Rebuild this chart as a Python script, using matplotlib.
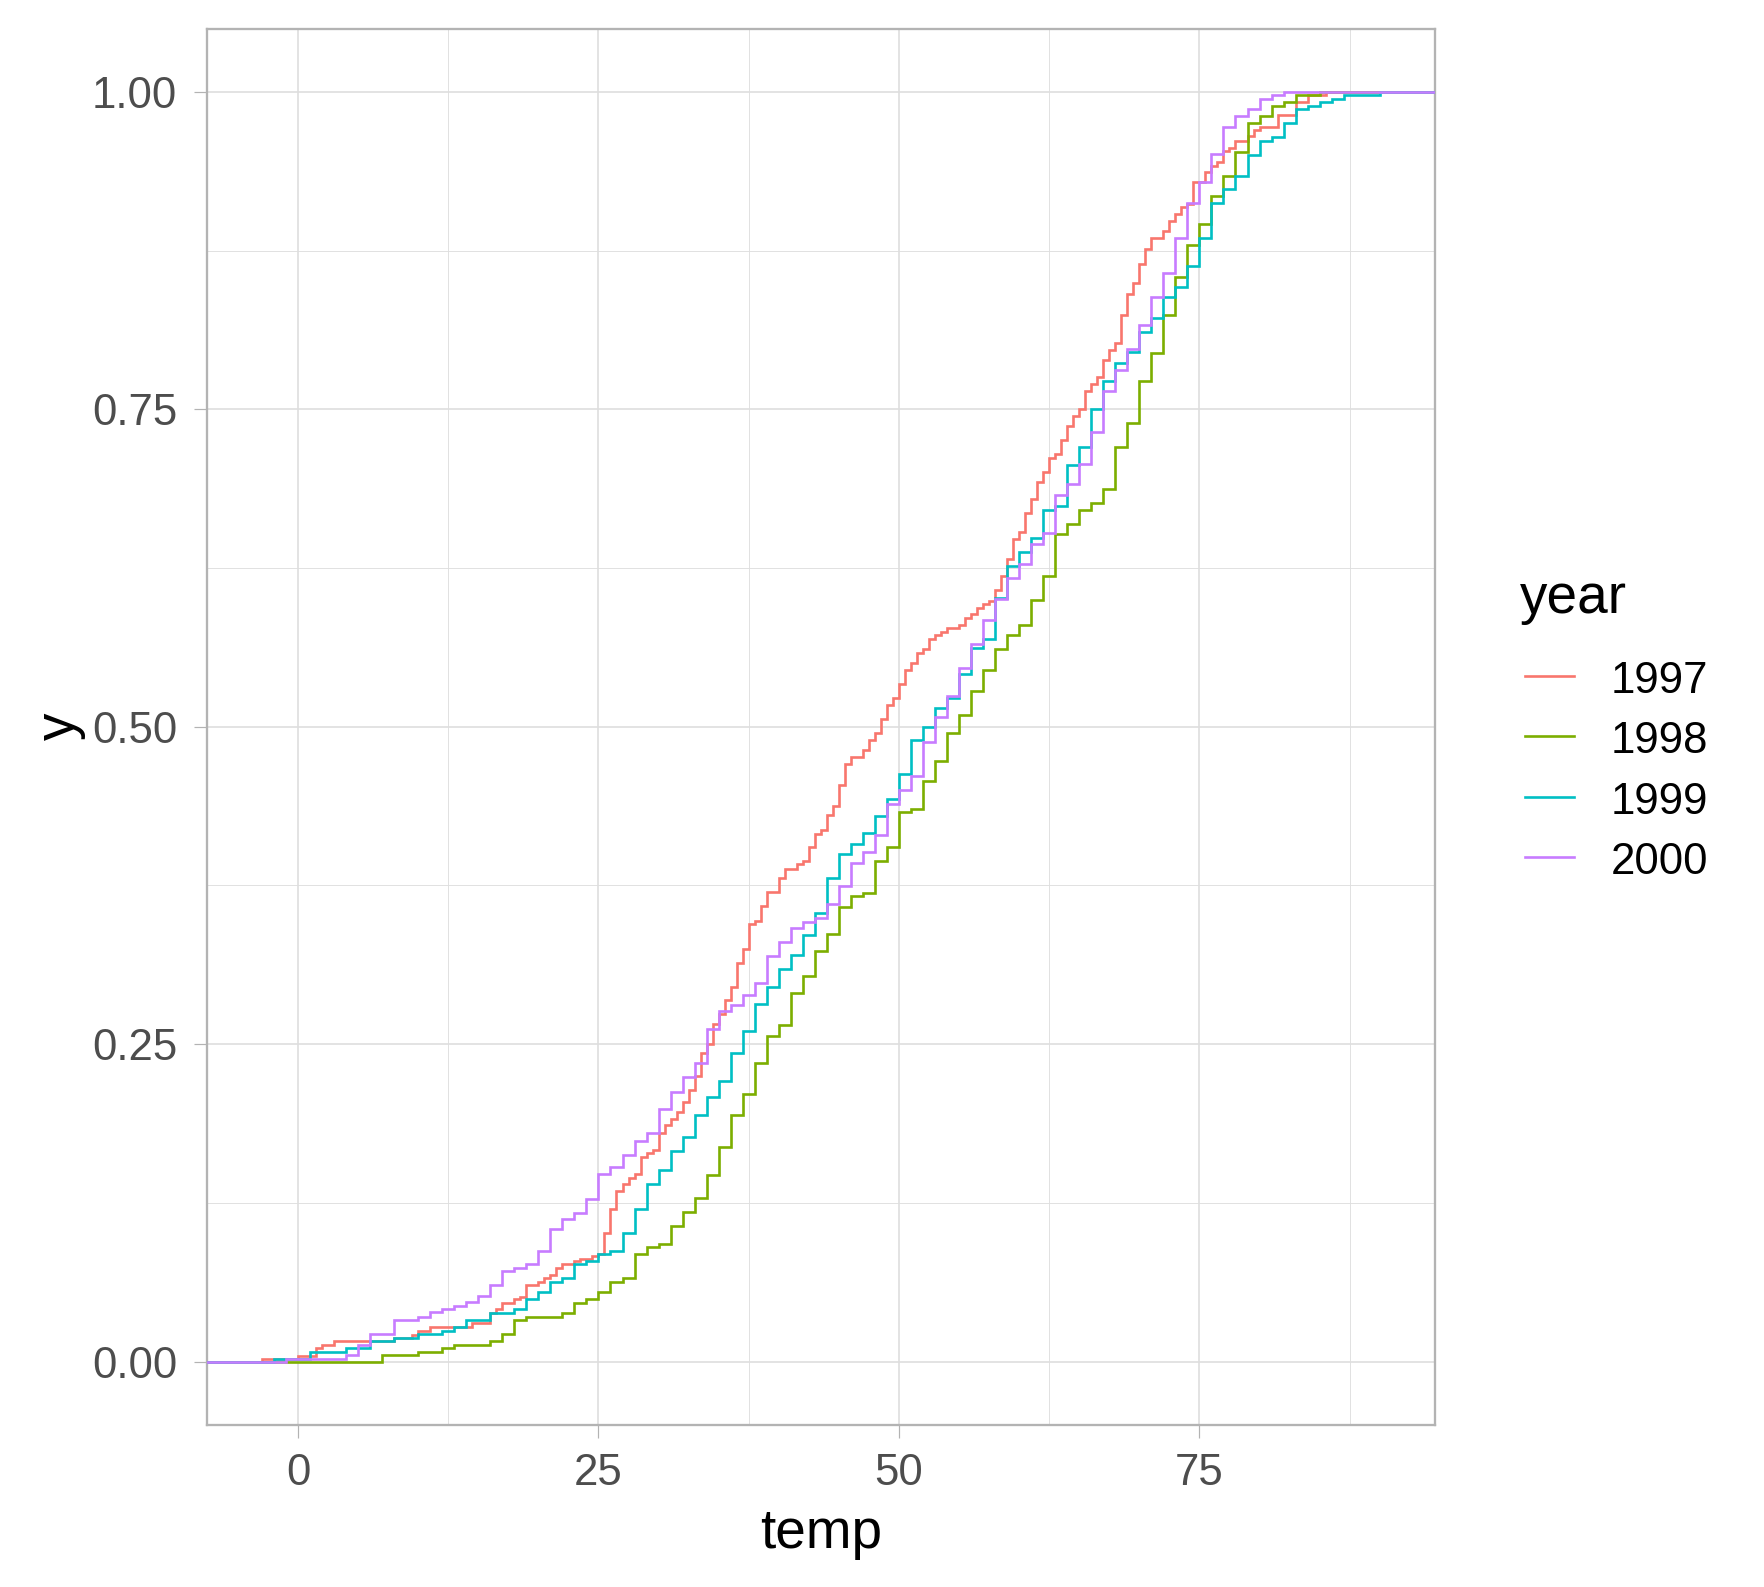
import matplotlib
matplotlib.use("Agg")
import matplotlib.pyplot as plt
from matplotlib.lines import Line2D
from matplotlib.ticker import FixedLocator

# ---------------- data ----------------
years = ["1997", "1998", "1999", "2000"]
colors = ["#F8766D", "#7CAE00", "#00BFC4", "#C77CFF"]

temp_1997 = [-3.0, 0.0, 1.5, 2.0, 3.0, 8.0, 9.5, 10.0, 11.0, 14.5, 16.0, 16.5, 17.0, 18.0, 18.5,
             19.0, 20.0, 20.5, 21.0, 21.5, 22.0, 23.0, 23.5, 24.5, 25.0, 25.5, 26.0, 26.5,
             27.0, 27.5, 28.0, 28.5, 29.0, 29.5, 30.0, 30.5, 31.0, 31.5, 32.0, 32.5, 33.0,
             33.5, 34.0, 34.5, 35.0, 35.5, 36.0, 36.5, 37.0, 37.5, 38.0, 38.5, 39.0, 40.0,
             40.5, 41.5, 42.0, 42.5, 43.0, 43.5, 44.0, 44.5, 45.0, 45.5, 46.0, 47.0, 47.5,
             48.0, 48.5, 49.0, 49.5, 50.0, 50.5, 51.0, 51.5, 52.0, 52.5, 53.0, 53.5, 54.0,
             55.0, 55.5, 56.0, 56.5, 57.0, 57.5, 58.0, 58.5, 59.0, 59.5, 60.0, 60.5, 61.0,
             61.5, 62.0, 62.5, 63.0, 63.5, 64.0, 64.5, 65.0, 65.5, 66.0, 66.5, 67.0, 67.5,
             68.0, 68.5, 69.0, 69.5, 70.0, 70.5, 71.0, 72.0, 72.5, 73.0, 73.5, 74.0, 74.5,
             75.5, 76.0, 76.5, 77.0, 77.5, 78.0, 79.0, 79.5, 80.0, 81.5, 83.0, 84.0, 85.5]
ecdf_1997 = [0.0021, 0.0047, 0.0108, 0.0129, 0.0163, 0.0186, 0.021, 0.0239, 0.027, 0.030, 0.038,
             0.041, 0.046, 0.049, 0.051, 0.060, 0.063, 0.066, 0.0685, 0.074, 0.077, 0.079,
             0.081, 0.083, 0.085, 0.101, 0.120, 0.134, 0.1395, 0.1447, 0.1476, 0.161, 0.164,
             0.1665, 0.180, 0.186, 0.191, 0.1967, 0.2046, 0.2138, 0.2248, 0.2434, 0.2505,
             0.2658, 0.2736, 0.2847, 0.2952, 0.3143, 0.3253, 0.345, 0.347, 0.3587, 0.3695,
             0.3805, 0.388, 0.3918, 0.394, 0.4049, 0.4159, 0.419, 0.4304, 0.4375, 0.4538,
             0.4703, 0.4761, 0.4816, 0.4892, 0.4953, 0.5063, 0.5168, 0.5223, 0.5333, 0.5444,
             0.5499, 0.5578, 0.5609, 0.5688, 0.5719, 0.5746, 0.5774, 0.5798, 0.5853, 0.5885,
             0.5937, 0.5964, 0.599, 0.6074, 0.6187, 0.6318, 0.648, 0.6536, 0.6685, 0.6796,
             0.6927, 0.7006, 0.7117, 0.7148, 0.7258, 0.7366, 0.7445, 0.7503, 0.7647, 0.770,
             0.7752, 0.7889, 0.7967, 0.802, 0.8243, 0.8408, 0.8492, 0.8645, 0.8763, 0.8847,
             0.8902, 0.8981, 0.9038, 0.9094, 0.912, 0.929, 0.9373, 0.9419, 0.9449, 0.9535,
             0.9556, 0.9614, 0.965, 0.970, 0.9727, 0.9816, 0.9921, 0.9974, 1.0]

temp_1998 = [7.0, 10.0, 12.0, 13.0, 16.0, 17.0, 18.0, 19.0, 22.0, 23.0, 24.0, 25.0, 26.0, 27.0,
             28.0, 29.0, 30.0, 31.0, 32.0, 33.0, 34.0, 35.0, 36.0, 37.0, 38.0, 39.0, 40.0,
             41.0, 42.0, 43.0, 44.0, 45.0, 46.0, 47.0, 48.0, 49.0, 50.0, 51.0, 52.0, 53.0,
             54.0, 55.0, 56.0, 57.0, 58.0, 59.0, 60.0, 61.0, 62.0, 63.0, 64.0, 65.0, 66.0,
             67.0, 68.0, 69.0, 70.0, 71.0, 72.0, 73.0, 74.0, 75.0, 76.0, 77.0, 78.0, 79.0,
             80.0, 81.0, 82.0, 83.0, 85.0]
ecdf_1998 = [0.0053, 0.0076, 0.0108, 0.0131, 0.016, 0.0218, 0.033, 0.035, 0.038, 0.046, 0.0496,
             0.055, 0.063, 0.066, 0.085, 0.090, 0.0925, 0.1067, 0.1174, 0.1287, 0.1473,
             0.1691, 0.1938, 0.2104, 0.2348, 0.2568, 0.2652, 0.290, 0.3038, 0.3232, 0.3364,
             0.3582, 0.3668, 0.3692, 0.3941, 0.4049, 0.4325, 0.4356, 0.4572, 0.473, 0.4953,
             0.5092, 0.5281, 0.5444, 0.5609, 0.5719, 0.5798, 0.5995, 0.6187, 0.6515, 0.6594,
             0.6704, 0.6765, 0.6873, 0.7206, 0.7392, 0.7726, 0.7944, 0.8243, 0.854, 0.8794,
             0.8962, 0.9182, 0.9338, 0.953, 0.9753, 0.9811, 0.989, 0.9921, 0.9974, 1.0]

temp_1999 = [-2.0, 1.0, 4.0, 6.0, 8.0, 10.0, 12.0, 13.0, 14.0, 16.0, 18.0, 19.0, 20.0, 21.0,
             22.0, 23.0, 24.0, 25.0, 26.0, 27.0, 28.0, 29.0, 30.0, 31.0, 32.0, 33.0, 34.0,
             35.0, 36.0, 37.0, 38.0, 39.0, 40.0, 41.0, 42.0, 43.0, 44.0, 45.0, 46.0, 47.0,
             48.0, 49.0, 50.0, 51.0, 52.0, 53.0, 54.0, 55.0, 56.0, 57.0, 58.0, 59.0, 60.0,
             61.0, 62.0, 63.0, 64.0, 65.0, 66.0, 67.0, 68.0, 69.0, 70.0, 71.0, 72.0, 73.0,
             74.0, 75.0, 76.0, 77.0, 78.0, 79.0, 80.0, 81.0, 82.0, 83.0, 84.0, 85.0, 86.0,
             87.0, 90.0]
ecdf_1999 = [0.002, 0.0076, 0.0108, 0.0163, 0.0186, 0.0218, 0.0244, 0.0273, 0.033, 0.038, 0.041,
             0.049, 0.055, 0.063, 0.066, 0.077, 0.079, 0.085, 0.087, 0.101, 0.1198, 0.1395,
             0.1508, 0.166, 0.177, 0.1938, 0.208, 0.221, 0.243, 0.260, 0.282, 0.295, 0.309,
             0.320, 0.336, 0.353, 0.3805, 0.3994, 0.408, 0.416, 0.430, 0.4433, 0.4625, 0.4892,
             0.500, 0.5144, 0.5223, 0.5417, 0.5617, 0.5688, 0.6016, 0.6265, 0.6376, 0.6483,
             0.6707, 0.6736, 0.7061, 0.7206, 0.7503, 0.7726, 0.7862, 0.7949, 0.8106, 0.8219,
             0.8387, 0.8461, 0.8626, 0.8849, 0.9125, 0.9232, 0.9337, 0.9501, 0.9614, 0.9646,
             0.9753, 0.9863, 0.989, 0.9921, 0.9942, 0.9974, 1.0]

temp_2000 = [-1.0, 4.0, 5.0, 6.0, 8.0, 10.0, 11.0, 12.0, 13.0, 14.0, 15.0, 16.0, 17.0, 18.0,
             19.0, 20.0, 21.0, 22.0, 23.0, 24.0, 25.0, 26.0, 27.0, 28.0, 29.0, 30.0, 31.0,
             32.0, 33.0, 34.0, 35.0, 36.0, 37.0, 38.0, 39.0, 40.0, 41.0, 42.0, 43.0, 44.0,
             45.0, 46.0, 47.0, 48.0, 49.0, 50.0, 51.0, 52.0, 53.0, 54.0, 55.0, 56.0, 57.0,
             58.0, 59.0, 60.0, 61.0, 62.0, 63.0, 64.0, 65.0, 66.0, 67.0, 68.0, 69.0, 70.0,
             71.0, 72.0, 73.0, 74.0, 75.0, 76.0, 77.0, 78.0, 79.0, 80.0, 81.0, 82.0]
ecdf_2000 = [0.002, 0.0053, 0.0134, 0.022, 0.033, 0.035, 0.039, 0.041, 0.044, 0.047, 0.052,
             0.060, 0.071, 0.074, 0.077, 0.087, 0.104, 0.112, 0.117, 0.128, 0.148, 0.153,
             0.163, 0.174, 0.180, 0.199, 0.2125, 0.224, 0.2348, 0.2616, 0.276, 0.281, 0.289,
             0.2978, 0.3193, 0.3301, 0.3416, 0.3463, 0.3495, 0.360, 0.3744, 0.3928, 0.4015,
             0.4151, 0.4392, 0.4501, 0.4611, 0.4882, 0.5076, 0.5242, 0.5465, 0.5648, 0.584,
             0.6003, 0.6168, 0.6279, 0.6441, 0.6523, 0.6825, 0.691, 0.7068, 0.7319, 0.7647,
             0.781, 0.7975, 0.8164, 0.8387, 0.8571, 0.8849, 0.9122, 0.929, 0.9513, 0.9724,
             0.9811, 0.9869, 0.9942, 0.9974, 1.0]

temps = [temp_1997, temp_1998, temp_1999, temp_2000]
ecdfs = [ecdf_1997, ecdf_1998, ecdf_1999, ecdf_2000]

x_ticks = [0, 25, 50, 75]
x_tick_labels = ["0", "25", "50", "75"]
y_ticks = [0.0, 0.25, 0.5, 0.75, 1.0]
y_tick_labels = ["0.00", "0.25", "0.50", "0.75", "1.00"]

# ---------------- figure ----------------
W, H, DPI = 1764, 1587, 100
plt.rcParams['font.family'] = ['Liberation Sans', 'DejaVu Sans']
fig = plt.figure(figsize=(W / DPI, H / DPI), dpi=DPI)

pl, pr, pt, pb = 207, 1435, 28.5, 1425
ax = fig.add_axes([pl / W, 1 - pb / H, (pr - pl) / W, (pb - pt) / H])

XL, XR = -7.57, 94.6
ax.set_xlim(XL, XR)
ax.set_ylim(-0.05, 1.05)

LW = 1.9
for t, e, c in zip(temps, ecdfs, colors):
    xs = [XL] + t + [XR]
    ys = [0.0] + e + [1.0]
    ax.step(xs, ys, where='post', color=c, lw=LW, solid_joinstyle='miter', zorder=3)

grid_col = "#DEDEDE"
ax.xaxis.set_major_locator(FixedLocator(x_ticks))
ax.set_xticklabels(x_tick_labels)
ax.yaxis.set_major_locator(FixedLocator(y_ticks))
ax.set_yticklabels(y_tick_labels)
ax.xaxis.set_minor_locator(FixedLocator([12.5, 37.5, 62.5, 87.5]))
ax.yaxis.set_minor_locator(FixedLocator([0.125, 0.375, 0.625, 0.875]))
ax.grid(which='major', color=grid_col, lw=1.22)
ax.grid(which='minor', color=grid_col, lw=0.65)
ax.set_axisbelow(True)

for s in ax.spines.values():
    s.set_color("#B3B3B3")
    s.set_linewidth(1.66)

ax.tick_params(which='major', length=9.4, width=0.86, color="#B3B3B3",
               labelsize=31.5, labelcolor="#4D4D4D")
ax.tick_params(axis='x', which='major', pad=10.8)
ax.tick_params(axis='y', which='major', pad=12.0)
ax.tick_params(which='minor', length=0)

ax.set_xlabel("temp", fontsize=39.5, color="black")
ax.xaxis.label.set_va('baseline')
ax.xaxis.label.set_ha('center')
ax.xaxis.set_label_coords(0.5, -(1548.3 - pb) / (pb - pt))

ax.set_ylabel("y", fontsize=39.5, color="black")
ax.yaxis.label.set_va('center')
ax.yaxis.label.set_ha('center')
ax.yaxis.set_label_coords((59.5 - pl) / (pr - pl), 0.5)

# ---------------- legend ----------------
fig.text(1520 / W, 1 - 613 / H, "year", fontsize=39.5, color="black",
         ha='left', va='baseline')
key_y = [676, 736, 797.3, 856.7]
for ky, c, lab in zip(key_y, colors, years):
    fig.add_artist(Line2D([1525 / W, 1574 / W], [1 - ky / H, 1 - ky / H],
                          transform=fig.transFigure, color=c, lw=LW))
    fig.text(1611 / W, 1 - (ky + 17.0) / H, lab, fontsize=31.5, color="black",
             ha='left', va='baseline')

fig.savefig("out.png", dpi=DPI, facecolor="white")
